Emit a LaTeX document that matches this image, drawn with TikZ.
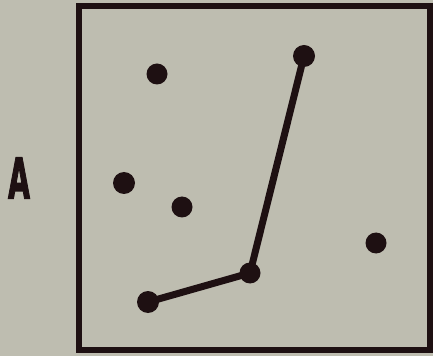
\documentclass[tikz,border=0pt]{standalone}
\usepackage{fontspec}
\setmainfont{Liberation Sans}
\newfontfamily\afont[FakeBold=2.5]{DejaVu Sans Condensed Bold}
\definecolor{ink}{RGB}{30,16,18}
\definecolor{paper}{RGB}{190,189,176}
\tikzset{
  dot/.style={circle,fill=ink,inner sep=0pt,minimum size=21pt},
  rod/.style={draw=ink,line width=7pt,line cap=round},
  frame/.style={draw=ink,line width=6pt}
}
\begin{document}
\begin{tikzpicture}[x=1pt,y=1pt]
\fill[paper] (0,0) rectangle (433,356);
\useasboundingbox (0,0) rectangle (433,356);
\draw[frame] (79,6) rectangle (430,350);
\node[inner sep=0pt,xscale=0.56,text=ink,font=\fontsize{56}{56}\afont] (A) at (19,178) {A};
\node[dot] (d1) at (157,282) {};
\node[dot,minimum size=22pt] (d2) at (304,300) {};
\node[dot,minimum size=22pt] (d3) at (124,173) {};
\node[dot] (d4) at (182,149) {};
\node[dot] (d5) at (376,113) {};
\node[dot] (d6) at (250,83) {};
\node[dot,minimum size=22pt] (d7) at (148,54) {};
\draw[rod] (d2.center) -- (d6.center) -- (d7.center);
\end{tikzpicture}
\end{document}
